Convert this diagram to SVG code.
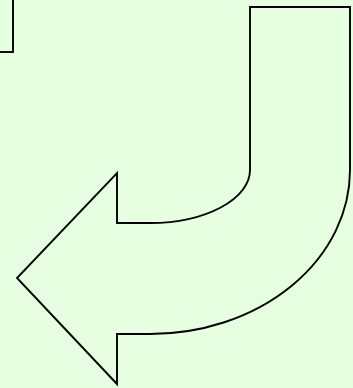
<svg xmlns="http://www.w3.org/2000/svg" width="353" height="388" viewBox="0 0 353 388">
<style>
.shape{fill:#E6FFE0;stroke:#000;stroke-width:1.9;stroke-linejoin:miter}
</style>
<rect x="0" y="0" width="353" height="388" fill="#E6FFE0"/>
<g id="box">
<rect class="shape" x="-20" y="-20" width="33" height="72" stroke-width="2.2"/>
</g>
<g id="arrow">
<path class="shape" d="M250,7 H350 V170 A200,164 0 0 1 150,334 H117 V384 L17,278 L117,173 V223 H150 A100,53 0 0 0 250,170 Z"/>
</g>
</svg>
